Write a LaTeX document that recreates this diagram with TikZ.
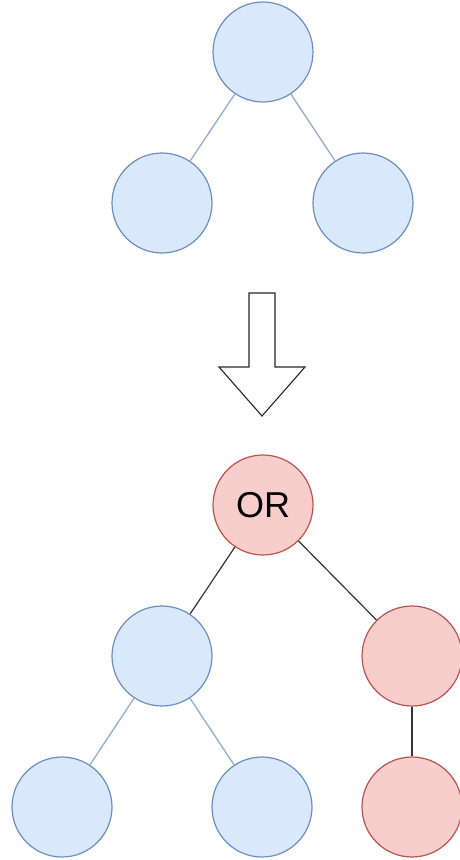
\documentclass[tikz,border=0pt]{standalone}
\usepackage{fontspec}
\setmainfont{Liberation Sans}
\usetikzlibrary{positioning}

\definecolor{blueFill}{HTML}{DAE8FC}
\definecolor{blueLine}{HTML}{6C8EBF}
\definecolor{redFill}{HTML}{F8CECC}
\definecolor{redLine}{HTML}{B85450}

\begin{document}
\begin{tikzpicture}[x=1pt, y=-1pt,
    bluenode/.style={draw=blueLine, fill=blueFill, circle, line width=1.2pt, minimum size=100pt, inner sep=0pt},
    rednode/.style={draw=redLine, fill=redFill, circle, line width=1.2pt, minimum size=100pt, inner sep=0pt, font=\fontsize{36}{36}\selectfont},
    blueedge/.style={draw=blueLine!70!white, line width=1.4pt},
    blackedge/.style={draw=black!80, line width=1.2pt}]

    \useasboundingbox (0,0) rectangle (460,860);

    % tree before
    \node (root) [bluenode] at (263,52) {};
    \node (rootL) [bluenode] at (162,203) {};
    \node (rootR) [bluenode] at (363,203) {};

    \draw[blueedge] (root) -- (rootL);
    \draw[blueedge] (root) -- (rootR);

    % big arrow
    \draw[line width=1.1pt, black!85, fill=white, line join=miter]
        (249,293) -- (275,293) -- (275,367) -- (305,367) -- (262,416)
        -- (219,367) -- (249,367) -- cycle;

    % tree after
    \node (or) [rednode] at (263,505) {OR};
    \node (orL) [bluenode] at (162,656) {};
    \node (orR) [rednode] at (412,656) {};
    \node (leafA) [bluenode] at (62,807) {};
    \node (leafB) [bluenode] at (262,807) {};
    \node (leafC) [rednode] at (412,807) {};

    \draw[blackedge] (or) -- (orL);
    \draw[blackedge] (or) -- (orR);
    \draw[blackedge] (orR) -- (leafC);
    \draw[blueedge] (orL) -- (leafA);
    \draw[blueedge] (orL) -- (leafB);

\end{tikzpicture}
\end{document}
